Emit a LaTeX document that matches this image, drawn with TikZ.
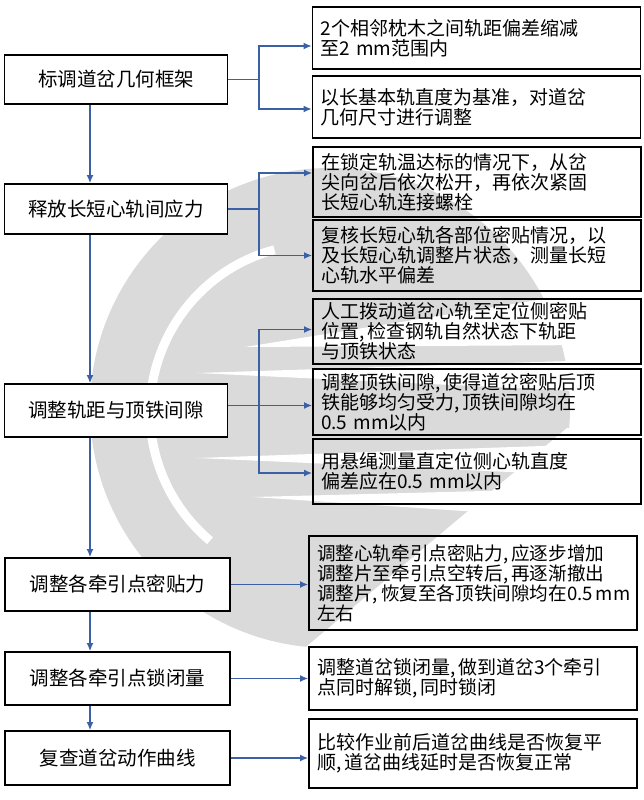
\documentclass[tikz,border=0pt]{standalone}
\usepackage{fontspec}
\setmainfont{Noto Sans CJK SC}
\usetikzlibrary{arrows.meta, positioning}
\definecolor{linkblue}{RGB}{60, 96, 165}
\definecolor{markgray}{RGB}{218, 218, 218}
\tikzset{
  stepbox/.style={draw=black, line width=1.8pt, fill=white, minimum width=223pt, inner sep=0pt, font=\fontsize{19.5}{20}\selectfont},
  notebox/.style={draw=black, line width=1.8pt, minimum width=328pt, inner sep=0pt, text width=312pt, align=left, font=\fontsize{19}{20}\selectfont},
  link/.style={draw=linkblue, line width=1.4pt},
  linkarrow/.style={link, -{Latex[length=8pt, width=7pt]}}
}

\begin{document}
\begin{tikzpicture}[x=1pt, y=-1pt]
  \useasboundingbox (0,0) rectangle (643,800);

  % Background emblem
  \fill[markgray] (330,408) circle[radius=240];
  \fill[white] (300,652) -- (567,428) -- (643,428) -- (643,700) -- (300,700) -- cycle;
  \draw[white, line width=9pt] ([shift={(-105:168)}]318,412) arc[start angle=-105, end angle=-230, radius=168];
  \fill[white] (245,347) -- (600,290) -- (600,345) -- cycle;
  \fill[white] (197,373) -- (600,360) -- (600,392) -- cycle;
  \fill[white] (197,458) -- (600,444) -- (600,476) -- cycle;
  \fill[white] (253,497) -- (600,488) -- (600,520) -- cycle;

  % Main steps
  \node[stepbox, minimum height=49pt] (geo) at (116,79.5) {标调道岔几何框架};
  \node[stepbox, minimum height=50pt] (stress) at (116,209) {释放长短心轨间应力};
  \node[stepbox, minimum height=53pt] (gap) at (116,410.5) {调整轨距与顶铁间隙};
  \node[stepbox, minimum height=53pt, minimum width=225pt] (force) at (117.5,584.5) {调整各牵引点密贴力};
  \node[stepbox, minimum height=53pt, minimum width=225pt] (lock) at (117.5,678.5) {调整各牵引点锁闭量};
  \node[stepbox, minimum height=54pt, minimum width=225pt] (curve) at (117.5,758) {复查道岔动作曲线};

  % Notes
  \node[notebox, minimum height=62pt] (geoA) at (476.5,38) {2个相邻枕木之间轨距偏差缩减\\至2~mm范围内};
  \node[notebox, minimum height=62pt] (geoB) at (476.5,107) {以长基本轨直度为基准，对道岔\\几何尺寸进行调整};
  \node[notebox, minimum height=70pt] (stressA) at (477,182) {在锁定轨温达标的情况下，从岔\\尖向岔后依次松开，再依次紧固\\长短心轨连接螺栓};
  \node[notebox, minimum height=71pt] (stressB) at (477,255.5) {复核长短心轨各部位密贴情况，以\\及长短心轨调整片状态，测量长短\\心轨水平偏差};
  \node[notebox, minimum height=65pt] (gapA) at (477,331.5) {人工拨动道岔心轨至定位侧密贴\\位置,\,检查钢轨自然状态下轨距\\与顶铁状态};
  \node[notebox, minimum height=66pt] (gapB) at (477,402) {调整顶铁间隙,\,使得道岔密贴后顶\\铁能够均匀受力,\,顶铁间隙均在\\0.5~mm以内};
  \node[notebox, minimum height=65pt] (gapC) at (477,471.5) {用悬绳测量直定位侧心轨直度\\偏差应在0.5~mm以内};
  \node[notebox, minimum height=94pt, font=\fontsize{18.6}{20}\selectfont] (forceN) at (473,583) {调整心轨牵引点密贴力,\,应逐步增加\\调整片至牵引点空转后,\,再逐渐撤出\\调整片,\,恢复至各顶铁间隙均在0.5\,mm\\左右};
  \node[notebox, minimum height=63pt] (lockN) at (473,678.5) {调整道岔锁闭量,\,做到道岔3个牵引\\点同时解锁,\,同时锁闭};
  \node[notebox, minimum height=69pt] (curveN) at (473,753.5) {比较作业前后道岔曲线是否恢复平\\顺,\,道岔曲线延时是否恢复正常};

  % Flow down the left
  \coordinate (spine) at (90,0);
  \draw[linkarrow] (geo.south -| spine) -- (stress.north -| spine);
  \draw[linkarrow] (stress.south -| spine) -- (gap.north -| spine);
  \draw[linkarrow] (gap.south -| spine) -- (force.north -| spine);
  \draw[linkarrow] (force.south -| spine) -- (lock.north -| spine);
  \draw[linkarrow] (lock.south -| spine) -- (curve.north -| spine);

  % Branches to the notes
  \coordinate (fork) at (259,0);
  \draw[link] (geo.east) -- (geo.east -| fork);
  \draw[linkarrow] (geo.east -| fork) |- ([yshift=-8pt]geoA.west);
  \draw[linkarrow] (geo.east -| fork) |- ([yshift=-2pt]geoB.west);

  \draw[link] (stress.east) -- (stress.east -| fork);
  \draw[linkarrow] (stress.east -| fork) |- ([yshift=9pt]stressA.west);
  \draw[linkarrow] (stress.east -| fork) |- (stressB.west);

  \draw[linkarrow] ([yshift=5pt]gap.east) -- ([yshift=5pt]gap.east -| gapB.west);
  \draw[linkarrow] ([yshift=5pt]gap.east -| fork) |- ([yshift=2pt]gapA.west);
  \draw[linkarrow] ([yshift=5pt]gap.east -| fork) |- ([yshift=-1.5pt]gapC.west);

  \draw[linkarrow] (force.east) -- (force.east -| forceN.west);
  \draw[linkarrow] (lock.east) -- (lock.east -| lockN.west);
  \draw[linkarrow] (curve.east) -- (curve.east -| curveN.west);
\end{tikzpicture}
\end{document}
